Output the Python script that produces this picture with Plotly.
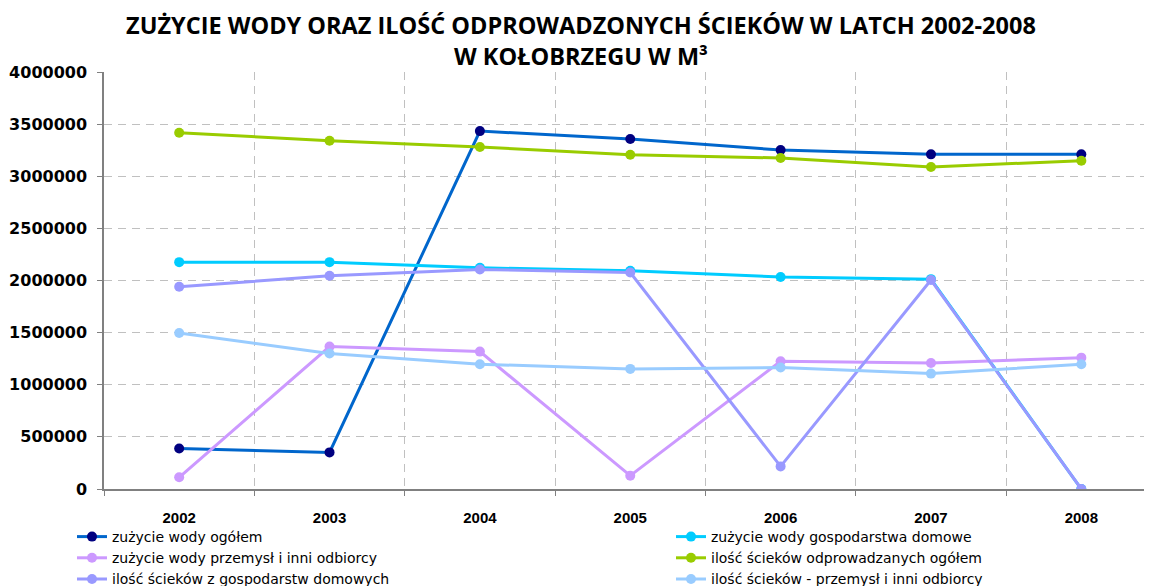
import plotly.graph_objects as go

years = ["2002", "2003", "2004", "2005", "2006", "2007", "2008"]

zuzycie_ogolem = [389000, 351000, 3433000, 3357000, 3251000, 3210000, 3210000]
zuzycie_gosp_domowe = [2176000, 2176000, 2122000, 2093000, 2033000, 2013000, 0]
zuzycie_przemysl = [112000, 1366000, 1318000, 128000, 1225000, 1209000, 1260000]
scieki_ogolem = [3417000, 3341000, 3280000, 3207000, 3175000, 3089000, 3149000]
scieki_gosp = [1940000, 2045000, 2106000, 2077000, 217000, 2004000, 0]
scieki_przemysl = [1497000, 1299000, 1197000, 1152000, 1165000, 1107000, 1197000]

y_ticks = [0, 500000, 1000000, 1500000, 2000000, 2500000, 3000000, 3500000, 4000000]

series = [
    ("zużycie wody ogółem", zuzycie_ogolem, "#0066CC", "#000080", "legend"),
    ("zużycie wody gospodarstwa domowe", zuzycie_gosp_domowe, "#00CCFF", "#00CCFF", "legend2"),
    ("zużycie wody przemysł i inni odbiorcy", zuzycie_przemysl, "#CC99FF", "#CC99FF", "legend"),
    ("ilość ścieków odprowadzanych ogółem", scieki_ogolem, "#99CC00", "#99CC00", "legend2"),
    ("ilość ścieków z gospodarstw domowych", scieki_gosp, "#9999FF", "#9999FF", "legend"),
    ("ilość ścieków - przemysł i inni odbiorcy", scieki_przemysl, "#99CCFF", "#99CCFF", "legend2"),
]

fig = go.Figure()
for name, vals, lc, mc, lg in series:
    fig.add_trace(go.Scatter(
        x=years, y=vals, name=name, mode="lines+markers",
        line=dict(color=lc, width=3),
        marker=dict(color=mc, size=10),
        legend=lg,
    ))

# page has an 8px body margin, so the figure is drawn at 1144x578
W, H = 1144, 578
legend_font = dict(family="DejaVu Sans", size=14, color="black")
legend_top = 1 - 513/H

fig.update_layout(
    width=W, height=H,
    margin=dict(l=96, r=0, t=64, b=97, autoexpand=False),
    paper_bgcolor="white", plot_bgcolor="white",
    title=dict(
        text="ZUŻYCIE WODY ORAZ ILOŚĆ ODPROWADZONYCH ŚCIEKÓW W LATCH 2002-2008<br>W KOŁOBRZEGU W M³",
        x=573/W, xanchor="center", xref="container",
        y=1 - 26/H, yanchor="middle", yref="container",
        font=dict(family="Open Sans", size=23.5, color="black", weight="bold"),
    ),
    legend=dict(
        orientation="v", x=64/W, xanchor="left", xref="container",
        y=legend_top, yanchor="top", yref="container",
        font=legend_font, bgcolor="rgba(0,0,0,0)", tracegroupgap=0,
    ),
    legend2=dict(
        orientation="v", x=663/W, xanchor="left", xref="container",
        y=legend_top, yanchor="top", yref="container",
        font=legend_font, bgcolor="rgba(0,0,0,0)", tracegroupgap=0,
    ),
    showlegend=True,
)

fig.update_xaxes(
    type="category", range=[-0.5, 6.47], automargin=False,
    tickson="boundaries", ticks="outside", ticklen=5, tickcolor="#808080",
    showgrid=True, gridcolor="#C0C0C0", griddash="8px,6px", gridwidth=1,
    showline=True, linecolor="#808080", linewidth=2,
    tickfont=dict(family="Liberation Sans", size=15, color="black", weight="bold"),
    ticklabelstandoff=14,
)
fig.update_yaxes(
    range=[0, 4000000], tickvals=y_ticks, ticktext=[str(v) for v in y_ticks],
    automargin=False,
    ticks="outside", ticklen=5, tickcolor="#808080",
    showgrid=True, gridcolor="#C0C0C0", griddash="8px,6px", gridwidth=1,
    showline=True, linecolor="#808080", linewidth=1.5,
    zeroline=False,
    tickfont=dict(family="DejaVu Sans", size=16, color="black", weight="bold"),
    ticklabelstandoff=7,
)

fig.write_html("out.html")
